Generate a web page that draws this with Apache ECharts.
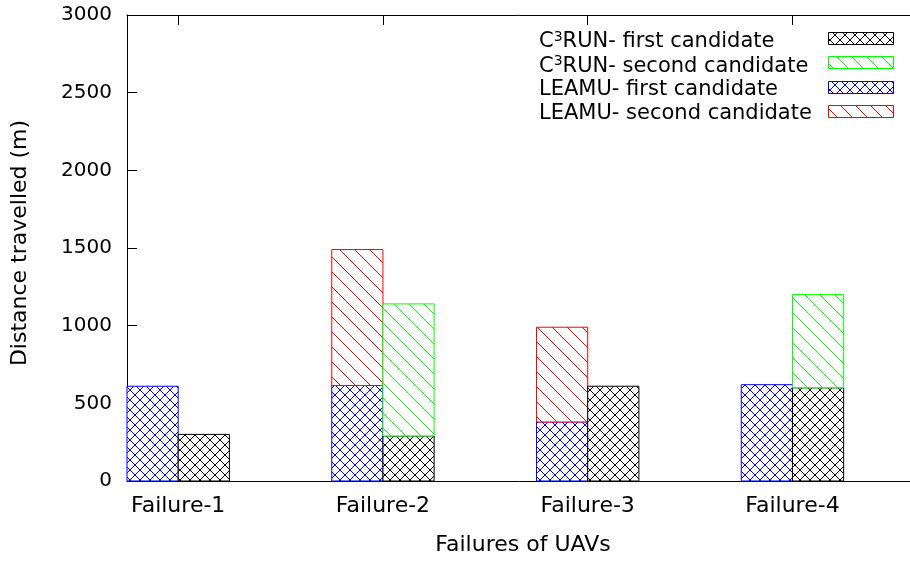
<!DOCTYPE html>
<html>
<head>
<meta charset="utf-8">
<script src="https://cdn.jsdelivr.net/npm/echarts@6/dist/echarts.min.js"></script>
<style>html,body{margin:0;padding:0;background:#fff}#chart{width:910px;height:561px}</style>
</head>
<body>
<div id="chart"></div>
<script>
// ---- data ----
const categories = ['Failure-1', 'Failure-2', 'Failure-3', 'Failure-4'];
const leamuFirst  = [610, 615, 380, 620];
const leamuSecond = [0, 875, 610, 0];
const c3runFirst  = [300, 290, 610, 600];
const c3runSecond = [0, 850, 0, 600];
const yTicks = [0, 500, 1000, 1500, 2000, 2500, 3000];
const legendNames = ['C3RUN- first candidate', 'C3RUN- second candidate', 'LEAMU- first candidate', 'LEAMU- second candidate'];

const FONT = 'DejaVu Sans';

const styles = {
  c3First:  { color: '#000000', cross: true,  P: 10 },
  c3Second: { color: '#00ff00', cross: false, P: 15 },
  leFirst:  { color: '#0000ff', cross: true,  P: 10 },
  leSecond: { color: '#ff0000', cross: false, P: 15 }
};

function hatchElements(x0, y0, x1, y1, st) {
  const els = [];
  const P = st.P;
  els.push({ type: 'rect', shape: { x: x0, y: y0, width: x1 - x0, height: y1 - y0 }, style: { fill: '#fff', stroke: null } });
  for (let c = Math.floor((x0 - y1) / P) * P; c <= x1 - y0; c += P) {
    const xs = Math.max(x0, y0 + c), xe = Math.min(x1, y1 + c);
    if (xe > xs) els.push({ type: 'line', shape: { x1: xs, y1: xs - c, x2: xe, y2: xe - c }, style: { stroke: st.color, lineWidth: 1 } });
  }
  if (st.cross) {
    for (let c = Math.ceil((x0 + y0) / P) * P; c <= x1 + y1; c += P) {
      const xs = Math.max(x0, c - y1), xe = Math.min(x1, c - y0);
      if (xe > xs) els.push({ type: 'line', shape: { x1: xs, y1: c - xs, x2: xe, y2: c - xe }, style: { stroke: st.color, lineWidth: 1 } });
    }
  }
  els.push({ type: 'rect', shape: { x: x0, y: y0, width: x1 - x0, height: y1 - y0 }, style: { fill: null, stroke: st.color, lineWidth: 1 } });
  return els;
}

const HALF = 0.125;
function buildData(first, second, offset, isSecond) {
  const out = [];
  categories.forEach((c, i) => {
    const base = isSecond ? first[i] : 0;
    const top = isSecond ? first[i] + second[i] : first[i];
    if (top > base) out.push([i + offset, base, top]);
  });
  return out;
}

function barSeries(name, data, st) {
  return {
    type: 'custom', name: name, data: data,
    encode: { x: 0, y: [1, 2] },
    itemStyle: { color: st.color },
    renderItem: function (params, api) {
      const x = api.value(0), y0 = api.value(1), y1 = api.value(2);
      const p0 = api.coord([x - HALF, y1]);
      const p1 = api.coord([x + HALF, y0]);
      return { type: 'group', children: hatchElements(p0[0], p0[1], p1[0], p1[1], st) };
    }
  };
}

function richName(n) {
  if (n.startsWith('C3RUN')) return '{n|C}{s|3}{n|' + n.slice(2) + '}';
  return '{n|' + n + '}';
}

const legendStyles = [styles.c3First, styles.c3Second, styles.leFirst, styles.leSecond];
const legendGraphics = [];
legendNames.forEach((n, i) => {
  const cy = 38 + i * 24.3;
  legendGraphics.push({
    type: 'text', left: 539, top: cy - 8,
    style: {
      text: richName(n),
      rich: {
        n: { fontFamily: FONT, fontSize: 21, lineHeight: 24, fill: '#000' },
        s: { fontFamily: FONT, fontSize: 14, lineHeight: 14, verticalAlign: 'top', fill: '#000' }
      }
    }
  });
  const ry = Math.round(cy - 6) + 0.5;
  legendGraphics.push({
    type: 'group',
    children: hatchElements(828.5, ry, 893.5, ry + 12, legendStyles[i])
  });
});

const axisLine = { show: true, onZero: false, lineStyle: { color: '#000', width: 1 } };
const catIdx = categories.map((c, i) => i);

const option = {
  animation: false,
  backgroundColor: '#fff',
  grid: { left: 127, top: 15, right: 0, bottom: 77, containLabel: false },
  xAxis: [
    {
      type: 'value', min: -0.25, max: 3.574, position: 'bottom',
      axisLine: axisLine,
      axisTick: { show: true, inside: true, length: 10, customValues: catIdx, lineStyle: { color: '#000' } },
      axisLabel: { customValues: catIdx, formatter: v => categories[Math.round(v)], fontFamily: FONT, fontSize: 22, color: '#000', margin: 14 },
      splitLine: { show: false },
      name: 'Failures of UAVs', nameLocation: 'middle', nameGap: 53,
      nameTextStyle: { fontFamily: FONT, fontSize: 22, color: '#000', padding: [0, 0, 0, 9] }
    },
    {
      type: 'value', min: -0.25, max: 3.574, position: 'top',
      axisLine: axisLine,
      axisTick: { show: true, inside: true, length: 10, customValues: catIdx, lineStyle: { color: '#000' } },
      axisLabel: { show: false },
      splitLine: { show: false }
    }
  ],
  yAxis: {
    type: 'value', min: 0, max: 3000, interval: 500,
    axisLine: axisLine,
    axisTick: { show: true, inside: true, length: 10, lineStyle: { color: '#000' } },
    axisLabel: { fontFamily: FONT, fontSize: 20, color: '#000', margin: 15, customValues: yTicks, formatter: v => String(v) },
    splitLine: { show: false },
    name: 'Distance travelled (m)', nameLocation: 'middle', nameGap: 96,
    nameTextStyle: { fontFamily: FONT, fontSize: 22, color: '#000', padding: [0, 0, 0, 10] }
  },
  graphic: legendGraphics,
  series: [
    barSeries('LEAMU- first candidate', buildData(leamuFirst, leamuSecond, -HALF, false), styles.leFirst),
    barSeries('LEAMU- second candidate', buildData(leamuFirst, leamuSecond, -HALF, true), styles.leSecond),
    barSeries('C3RUN- first candidate', buildData(c3runFirst, c3runSecond, HALF, false), styles.c3First),
    barSeries('C3RUN- second candidate', buildData(c3runFirst, c3runSecond, HALF, true), styles.c3Second)
  ]
};

const chart = echarts.init(document.getElementById('chart'), null, { renderer: 'canvas' });
chart.setOption(option);
</script>
</body>
</html>
